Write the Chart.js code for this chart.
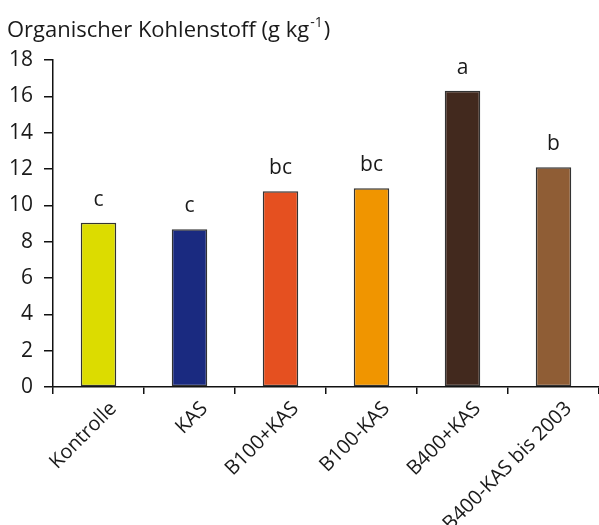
<!DOCTYPE html>
<html>
<head>
<meta charset="utf-8">
<script src="https://cdn.jsdelivr.net/npm/chart.js@4"></script>
<style>
  html, body { margin: 0; padding: 0; background: #fff; }
  #wrap { width: 599px; height: 525px; }
</style>
</head>
<body>
<div id="wrap"><canvas id="chart" width="599" height="525"></canvas></div>
<script>
// Daten
const varianten = ['Kontrolle', 'KAS', 'B100+KAS', 'B100-KAS', 'B400+KAS', 'B400-KAS bis 2003'];
const kohlenstoff = [9.04, 8.68, 10.77, 10.94, 16.31, 12.09];
const buchstaben = ['c', 'c', 'bc', 'bc', 'a', 'b'];
const farben = ['#dcdc00', '#1a2a80', '#e55020', '#f09500', '#42291e', '#8f5d35'];
const yTicks = [0, 2, 4, 6, 8, 10, 12, 14, 16, 18];

const FONT = '"Open Sans", Lato, sans-serif';

// Titel mit Hochstellung
const titelPlugin = {
  id: 'titel',
  afterDraw(chart) {
    const ctx = chart.ctx;
    ctx.save();
    ctx.fillStyle = '#1a1a1a';
    ctx.textBaseline = 'alphabetic';
    ctx.textAlign = 'left';
    ctx.font = '22px ' + FONT;
    const t1 = 'Organischer Kohlenstoff (g kg';
    ctx.fillText(t1, 7, 37);
    let x = 7 + ctx.measureText(t1).width;
    ctx.font = '14px ' + FONT;
    ctx.fillText('-1', x + 1, 27);
    x += ctx.measureText('-1').width + 2;
    ctx.font = '22px ' + FONT;
    ctx.fillText(')', x, 37);
    ctx.restore();
  }
};

// Buchstaben über den Balken
const buchstabenPlugin = {
  id: 'buchstaben',
  afterDatasetsDraw(chart) {
    const ctx = chart.ctx;
    const meta = chart.getDatasetMeta(0);
    ctx.save();
    ctx.fillStyle = '#1a1a1a';
    ctx.font = '21px ' + FONT;
    ctx.textAlign = 'center';
    ctx.textBaseline = 'middle';
    meta.data.forEach((bar, i) => {
      ctx.fillText(buchstaben[i], bar.x, bar.y - 23);
    });
    ctx.restore();
  }
};

new Chart(document.getElementById('chart'), {
  type: 'bar',
  data: {
    labels: varianten,
    datasets: [{
      data: kohlenstoff,
      backgroundColor: farben,
      borderColor: '#333333',
      borderWidth: 1.5,
      borderSkipped: false,
      barPercentage: 0.39,
      categoryPercentage: 1
    }]
  },
  options: {
    responsive: false,
    animation: false,
    layout: { padding: { top: 60, right: 0, left: 0, bottom: 0 } },
    plugins: {
      legend: { display: false },
      tooltip: { enabled: false }
    },
    scales: {
      y: {
        min: 0,
        max: 18,
        afterBuildTicks(scale) { scale.ticks = yTicks.map(v => ({ value: v })); },
        afterFit(scale) { scale.width = 53; },
        border: { color: '#111', width: 1.5 },
        grid: { drawOnChartArea: false, color: '#111', lineWidth: 1.5, tickLength: 9 },
        ticks: { color: '#1a1a1a', font: { family: FONT, size: 21 }, padding: 11 }
      },
      x: {
        afterFit(scale) { scale.height = 138; },
        border: { color: '#111', width: 1.5 },
        grid: { drawOnChartArea: false, color: '#111', lineWidth: 1.5, tickLength: 7, offset: true },
        ticks: {
          color: '#1a1a1a',
          font: { family: FONT, size: 20 },
          maxRotation: 45,
          minRotation: 45,
          autoSkip: false,
          labelOffset: 15,
          padding: 3
        }
      }
    }
  },
  plugins: [titelPlugin, buchstabenPlugin]
});
</script>
</body>
</html>
